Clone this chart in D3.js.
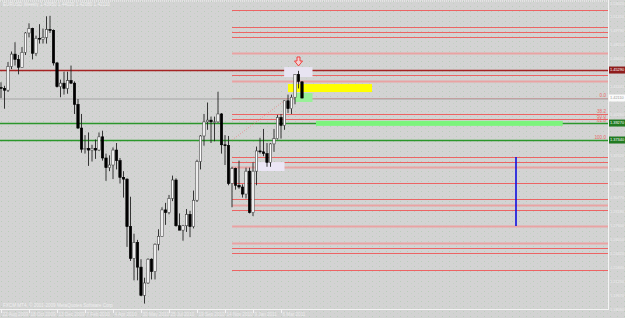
<html>
<head>
<meta charset="utf-8">
<script src="https://d3js.org/d3.v7.min.js"></script>
<style>
  body { margin: 0; background: #d3d3d3; }
  text { font-family: "Liberation Sans", Arial, sans-serif; font-size: 4.6px; }
  .ax { font-size: 3.9px; }
</style>
</head>
<body>
<script>

// weekly EURUSD bars, index 0 = week of 22 Aug 2009
var opens  = [1.4330,1.4320,1.4300,1.4570,1.4710,1.4650,1.4560,1.4730,1.4950,1.5000,1.4720,1.4890,1.4880,1.4900,1.4990,1.4980,1.4610,1.4340,1.4380,1.4320,1.4410,1.4380,1.4140,1.3870,1.3630,1.3640,1.3620,1.3640,1.3620,1.3770,1.3530,1.3420,1.3450,1.3620,1.3500,1.3310,1.3290,1.2750,1.2390,1.2570,1.2290,1.1970,1.2110,1.2380,1.2240,1.2550,1.2640,1.2940,1.2910,1.3070,1.3280,1.2760,1.2710,1.2760,1.2890,1.2750,1.3050,1.3490,1.3780,1.3940,1.3960,1.3940,1.3940,1.4030,1.3680,1.3670,1.3240,1.3410,1.3220,1.3200,1.3120,1.3380,1.2910,1.3380,1.3610,1.3600,1.3580,1.3480,1.3690,1.3750,1.3990,1.3900,1.4180,1.4090,1.4220,1.4480,1.4395];
var highs  = [1.4390,1.4350,1.4620,1.4740,1.4845,1.4700,1.4790,1.4960,1.5060,1.5010,1.4920,1.5050,1.5000,1.5140,1.5145,1.4990,1.4620,1.4420,1.4510,1.4510,1.4580,1.4400,1.4200,1.4030,1.3790,1.3820,1.3680,1.3740,1.3820,1.3840,1.3580,1.3560,1.3650,1.3700,1.3530,1.3380,1.3300,1.3090,1.2670,1.2600,1.2380,1.2170,1.2390,1.2390,1.2560,1.2720,1.2970,1.3020,1.3110,1.3330,1.3300,1.2900,1.2770,1.2950,1.2930,1.3160,1.3510,1.3790,1.4030,1.4160,1.4000,1.4000,1.4282,1.4040,1.3790,1.3780,1.3430,1.3420,1.3500,1.3230,1.3420,1.3420,1.3480,1.3660,1.3760,1.3860,1.3700,1.3700,1.3860,1.4020,1.4030,1.4180,1.4250,1.4250,1.4480,1.4520,1.4402];
var lows   = [1.4210,1.4090,1.4280,1.4540,1.4580,1.4480,1.4560,1.4700,1.4900,1.4650,1.4690,1.4830,1.4830,1.4830,1.4950,1.4580,1.4330,1.4220,1.4250,1.4260,1.4370,1.4030,1.3860,1.3590,1.3580,1.3440,1.3490,1.3520,1.3610,1.3500,1.3270,1.3380,1.3290,1.3400,1.3240,1.3080,1.2520,1.2360,1.2140,1.2140,1.1960,1.1876,1.2100,1.2150,1.2150,1.2480,1.2640,1.2770,1.2890,1.3040,1.2750,1.2710,1.2590,1.2690,1.2630,1.2730,1.3030,1.3400,1.3670,1.3850,1.3700,1.3720,1.3930,1.3580,1.3450,1.3220,1.2970,1.3170,1.3180,1.3080,1.3070,1.2900,1.2870,1.3220,1.3580,1.3550,1.3430,1.3430,1.3600,1.3740,1.3750,1.3850,1.4040,1.4030,1.4140,1.4320,1.4208];
var closes = [1.4320,1.4300,1.4570,1.4710,1.4650,1.4560,1.4730,1.4950,1.5000,1.4720,1.4890,1.4880,1.4900,1.4990,1.4980,1.4610,1.4340,1.4380,1.4320,1.4410,1.4380,1.4140,1.3870,1.3630,1.3640,1.3620,1.3640,1.3620,1.3770,1.3530,1.3420,1.3450,1.3620,1.3500,1.3310,1.3290,1.2750,1.2390,1.2570,1.2290,1.1970,1.2110,1.2380,1.2240,1.2550,1.2640,1.2940,1.2910,1.3070,1.3280,1.2760,1.2710,1.2760,1.2890,1.2750,1.3050,1.3490,1.3780,1.3940,1.3960,1.3940,1.3940,1.4030,1.3680,1.3670,1.3240,1.3410,1.3220,1.3200,1.3120,1.3380,1.2910,1.3380,1.3610,1.3600,1.3580,1.3480,1.3690,1.3750,1.3990,1.3900,1.4180,1.4090,1.4220,1.4480,1.4400,1.4211];

var dateLabels = ["22 Aug 2009","18 Oct 2009","13 Dec 2009","7 Feb 2010","4 Apr 2010","30 May 2010","25 Jul 2010","19 Sep 2010","14 Nov 2010","9 Jan 2011","6 Mar 2011"];
var dateBars = [0, 8, 16, 24, 32, 40, 48, 56, 64, 72, 80];

var priceTicks = [1.53020,1.51410,1.49790,1.48210,1.46640,1.45050,1.43441,1.41870,1.40280,1.38690,1.37110,1.35520,1.33940,1.32350,1.30770,1.29180,1.27600,1.26010,1.24420,1.22840,1.21250,1.19670,1.18080];

// drawn objects (prices)
var redLevels  = [1.5211,1.5018,1.4961,1.4904,1.4473,1.4211,1.3541,1.3484,1.3246,1.3064,1.2939,1.2507,1.2450,1.2257];
var pinkLevels = [1.4723,1.4404,1.3427,1.2996,1.2757,1.2564];
var resistance = 1.4529;
var greenLevels = [1.3927, 1.3734];
var bid = 1.4211;
var fibBars = [66, 82];
var fibPrices = [1.3734, 1.4211];
var fibRatios = [0, 38.2, 50, 61.8, 100];
var vlineBar = 147, vlinePrices = [1.3541, 1.2757];
var arrowBar = 85, arrowPrice = 1.4632;

var width = 625, height = 318,
    plotRight = 608, plotBottom = 309;

var svg = d3.select("body").append("svg")
    .attr("width", width)
    .attr("height", height);

var x = d3.scaleLinear().domain([0, 1]).range([1, 4.5]);
var y = d3.scaleLinear().domain([1.1803, 1.5302]).range([310, 2]);
function py(v) { return Math.round(y(v)) + 0.5; }

// background with the little green dither dots
var pat = svg.append("defs").append("pattern")
    .attr("id", "dots").attr("width", 7).attr("height", 5)
    .attr("patternUnits", "userSpaceOnUse");
pat.append("rect").attr("width", 7).attr("height", 5).attr("fill", "#d3d3d3");
pat.append("rect").attr("x", 1).attr("y", 1).attr("width", 1).attr("height", 1).attr("fill", "#b9cdb9");
pat.append("rect").attr("x", 5).attr("y", 3).attr("width", 1).attr("height", 1).attr("fill", "#c4d2c4");
svg.append("rect").attr("width", width).attr("height", height).attr("fill", "url(#dots)");

// background rectangles (bar index / price)
var rects = [
  {b0: 82, b1: 106, p0: 1.4370, p1: 1.4279, c: "#ffff00"},
  {b0: 84, b1: 89, p0: 1.4268, p1: 1.4166, c: "#98f098"},
  {b0: 80.9, b1: 89, p0: 1.4563, p1: 1.4450, c: "#e8e4f2"},
  {b0: 73, b1: 81, p0: 1.3484, p1: 1.3382, c: "#ebe6f5"}
];
var greenBand = {b0: 90, b1: 160.5, p0: 1.3952, p1: 1.3895};

// horizontal levels from the fib anchor to the right edge
var x0 = Math.round(x(fibBars[0]));
svg.selectAll(".pink").data(pinkLevels).enter().append("line")
    .attr("x1", x0).attr("x2", plotRight)
    .attr("y1", py).attr("y2", py)
    .attr("stroke", "#e9a3a3").attr("stroke-width", 2);

var fibLevels = fibRatios.map(function(r) {
  return fibPrices[1] - (fibPrices[1] - fibPrices[0]) * r / 100;
});
svg.selectAll(".red").data(redLevels.concat(fibLevels.slice(1, 3))).enter().append("line")
    .attr("x1", x0).attr("x2", plotRight)
    .attr("y1", py).attr("y2", py)
    .attr("stroke", "#ec6464").attr("stroke-width", 1);

// full width lines
svg.selectAll(".green").data(greenLevels).enter().append("line")
    .attr("x1", 0).attr("x2", plotRight)
    .attr("y1", py).attr("y2", py)
    .attr("stroke", "#2b962b").attr("stroke-width", 1.3);
svg.append("line")
    .attr("x1", 0).attr("x2", plotRight)
    .attr("y1", py(bid) + 0.5).attr("y2", py(bid) + 0.5)
    .attr("stroke", "#b4b4b4").attr("stroke-width", 1.5);
svg.append("line")
    .attr("x1", 0).attr("x2", plotRight)
    .attr("y1", py(resistance)).attr("y2", py(resistance))
    .attr("stroke", "#a52323").attr("stroke-width", 1.6);

svg.selectAll(".obj").data(rects).enter().append("rect")
    .attr("x", function(d) { return x(d.b0); })
    .attr("width", function(d) { return x(d.b1) - x(d.b0); })
    .attr("y", function(d) { return y(d.p0); })
    .attr("height", function(d) { return y(d.p1) - y(d.p0); })
    .attr("fill", function(d) { return d.c; });
svg.append("rect")
    .attr("x", x(greenBand.b0)).attr("width", x(greenBand.b1) - x(greenBand.b0))
    .attr("y", y(greenBand.p0)).attr("height", y(greenBand.p1) - y(greenBand.p0))
    .attr("fill", "#7cf47c");

// fib trend line
svg.append("line")
    .attr("x1", x(fibBars[0])).attr("y1", y(fibPrices[0]))
    .attr("x2", x(fibBars[1])).attr("y2", y(fibPrices[1]))
    .attr("stroke", "#e88080").attr("stroke-width", 0.8)
    .attr("stroke-dasharray", "1,1.5");

svg.selectAll(".fibtxt").data(fibRatios).enter().append("text")
    .attr("x", plotRight - 2)
    .attr("y", function(d, i) { return y(fibLevels[i]) - 1.5; })
    .attr("text-anchor", "end")
    .attr("fill", "#e86a6a")
    .text(function(d) { return d.toFixed(1); });

// vertical blue line
svg.append("line")
    .attr("x1", Math.round(x(vlineBar))).attr("x2", Math.round(x(vlineBar)))
    .attr("y1", y(vlinePrices[0])).attr("y2", y(vlinePrices[1]))
    .attr("stroke", "#1010e0").attr("stroke-width", 1.6);

// candles
var bars = opens.map(function(o, i) {
  return {i: i, o: o, h: highs[i], l: lows[i], c: closes[i]};
});
var candle = svg.selectAll(".candle").data(bars).enter().append("g");
candle.append("line")
    .attr("x1", function(d) { return x(d.i); })
    .attr("x2", function(d) { return x(d.i); })
    .attr("y1", function(d) { return y(d.h); })
    .attr("y2", function(d) { return y(d.l); })
    .attr("stroke", "#222").attr("stroke-width", 0.9);
candle.append("rect")
    .attr("x", function(d) { return x(d.i) - 1.2; })
    .attr("width", 2.4)
    .attr("y", function(d) { return y(Math.max(d.o, d.c)); })
    .attr("height", function(d) { return Math.max(0.8, Math.abs(y(d.o) - y(d.c))); })
    .attr("fill", function(d) { return d.c >= d.o ? "#fff" : "#000"; })
    .attr("stroke", function(d) { return d.c >= d.o ? "#444" : "#000"; })
    .attr("stroke-width", 0.6);

// red down arrow over the last highs
var ax = x(arrowBar), ay = y(arrowPrice);
svg.append("path")
    .attr("d", "M" + (ax - 1.5) + "," + (ay - 4) + "h3v4h2.5l-4,5l-4,-5h2.5z")
    .attr("fill", "#f4d0d0").attr("stroke", "#f03030").attr("stroke-width", 0.9);

// axes
svg.append("line").attr("x1", 0).attr("x2", plotRight).attr("y1", 1).attr("y2", 1)
    .attr("stroke", "#f4f4f4").attr("stroke-dasharray", "1,1");
svg.append("line").attr("x1", plotRight + 0.5).attr("x2", plotRight + 0.5).attr("y1", 0).attr("y2", plotBottom + 1)
    .attr("stroke", "#f4f4f4");
svg.append("line").attr("x1", 0).attr("x2", plotRight).attr("y1", plotBottom + 0.5).attr("y2", plotBottom + 0.5)
    .attr("stroke", "#f4f4f4");

// price boxes on the axis
var boxes = [
  {p: resistance, fill: "#8e1c1c", txt: "#ffffff"},
  {p: bid, fill: "#fafafa", txt: "#9a9a9a"},
  {p: greenLevels[0], fill: "#217a21", txt: "#ffffff"},
  {p: greenLevels[1], fill: "#217a21", txt: "#ffffff"}
];

// tick labels hidden where a box sits on them
var shownTicks = priceTicks.filter(function(t) {
  return boxes.every(function(b) { return Math.abs(y(t) - y(b.p)) > 5.5; });
});
svg.selectAll(".ptick").data(shownTicks).enter().append("text")
    .attr("class", "ax")
    .attr("x", plotRight + 2)
    .attr("y", function(d) { return Math.max(4.5, y(d) + 1.4); })
    .attr("fill", "#ececec")
    .text(function(d) { return d.toFixed(5); });

svg.selectAll(".dtick").data(dateBars).enter().append("line")
    .attr("x1", function(d) { return Math.round(x(d)) + 0.5; })
    .attr("x2", function(d) { return Math.round(x(d)) + 0.5; })
    .attr("y1", plotBottom).attr("y2", plotBottom + 4)
    .attr("stroke", "#f4f4f4");
svg.selectAll(".dtxt").data(dateBars).enter().append("text")
    .attr("x", function(d) { return x(d) + 1.5; })
    .attr("y", 316)
    .attr("fill", "#ececec")
    .text(function(d, i) { return dateLabels[i]; });

var box = svg.selectAll(".box").data(boxes).enter().append("g");
box.append("rect")
    .attr("x", plotRight + 1).attr("width", width - plotRight)
    .attr("y", function(d) { return y(d.p) - 3.5; }).attr("height", 7)
    .attr("fill", function(d) { return d.fill; });
box.append("text")
    .attr("class", "ax")
    .attr("x", plotRight + 2)
    .attr("y", function(d) { return y(d.p) + 1.4; })
    .attr("fill", function(d) { return d.txt; })
    .text(function(d) { return d.p.toFixed(5); });

svg.append("text").attr("x", 3).attr("y", 6).attr("fill", "#f0f0f0")
    .text("EURUSD,Weekly  " + [opens[86], highs[86], lows[86], closes[86]].map(function(v) { return v.toFixed(5); }).join(" "));
svg.append("text").attr("x", 3).attr("y", 307).attr("fill", "#f0f0f0")
    .text("FXCM MT4, \u00a9 2001-2009 MetaQuotes Software Corp.");

</script>
</body>
</html>
